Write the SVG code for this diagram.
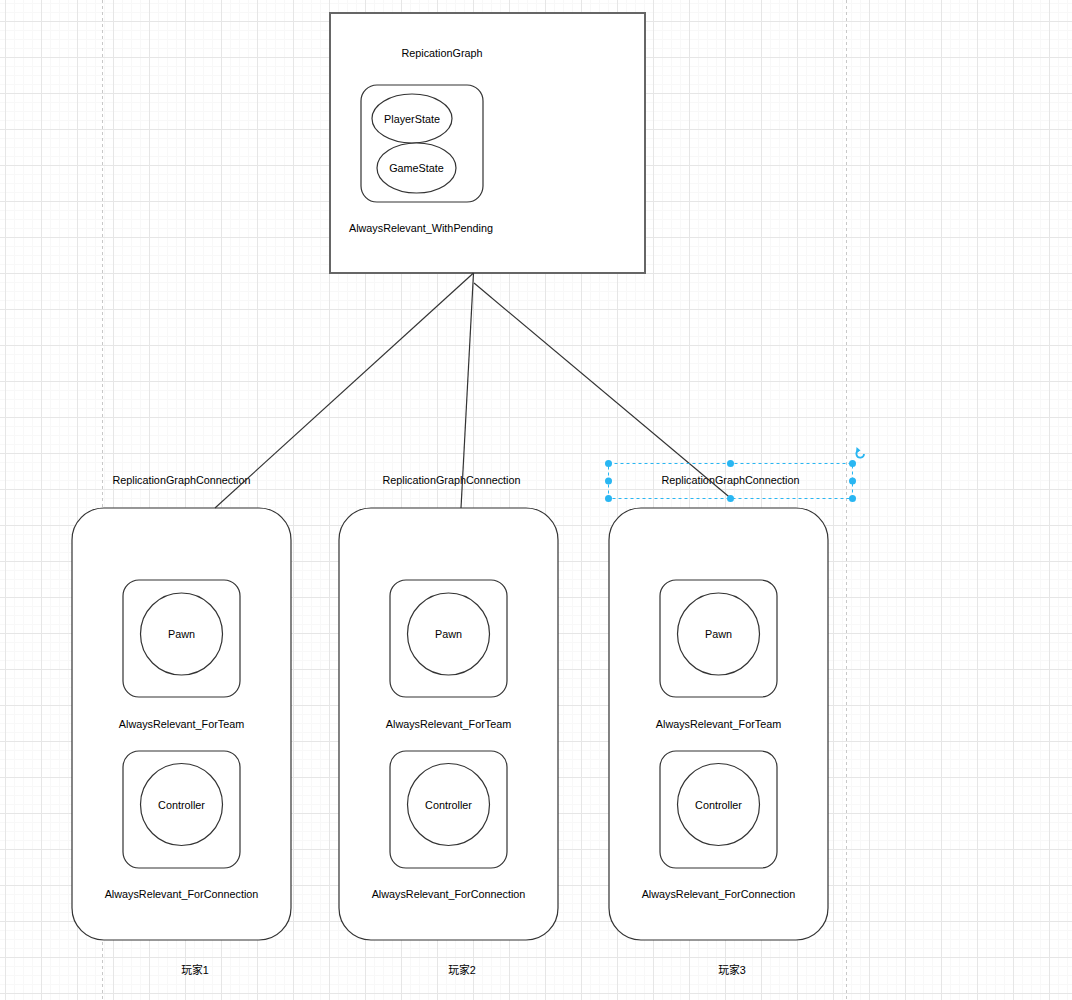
<svg xmlns="http://www.w3.org/2000/svg" width="1072" height="1000" viewBox="0 0 1072 1000">
<defs>
<pattern id="grid" patternUnits="userSpaceOnUse" x="5" y="21" width="36" height="36">
<path d="M9.5 0V36M18.5 0V36M27.5 0V36M0 9.5H36M0 18.5H36M0 27.5H36" stroke="#f8f8f8" stroke-width="1" fill="none"/>
<path d="M0.5 0V36M0 0.5H36" stroke="#e6e6e6" stroke-width="1" fill="none"/>
</pattern>
<style>
text{font-family:"Liberation Sans",Arial,sans-serif;font-size:10.8px;fill:#000;text-anchor:middle}
.cjk{font-family:"Liberation Sans","Noto Sans CJK SC",sans-serif}
.shape{fill:#fff;stroke:#333;stroke-width:1.2}
.edge{stroke:#333;stroke-width:1.2;fill:none}
.sel{fill:#29b6f2}
</style>
</defs>
<rect width="1072" height="1000" fill="#fff"/>
<rect width="1072" height="1000" fill="url(#grid)"/>
<path d="M102.5 0V1000M846.5 0V1000" stroke="#c8c8c8" stroke-width="1" stroke-dasharray="3 3"/>

<g id="replication-graph">
<rect x="330" y="13" width="315" height="260" fill="#fff" stroke="#666" stroke-width="2"/>
<text x="442" y="57">RepicationGraph</text>
<rect x="361" y="85" width="122" height="117" rx="16" class="shape"/>
<text x="421" y="232">AlwaysRelevant_WithPending</text>
</g>
<g id="playerstate">
<ellipse cx="412" cy="118.5" rx="40" ry="24.5" class="shape"/>
<text x="412" y="122.5">PlayerState</text>
</g>
<g id="gamestate">
<ellipse cx="416.5" cy="168" rx="39.5" ry="25" class="shape"/>
<text x="416.5" y="172">GameState</text>
</g>

<g id="connection1">
<rect x="72" y="508" width="219" height="432" rx="32" class="shape"/>
<text x="181.5" y="484">ReplicationGraphConnection</text>
<rect x="123" y="580" width="117" height="117" rx="16" class="shape"/>
<circle cx="181.5" cy="634" r="41" class="shape"/>
<text x="181.5" y="638">Pawn</text>
<text x="181.5" y="728">AlwaysRelevant_ForTeam</text>
<rect x="123" y="751" width="117" height="117" rx="16" class="shape"/>
<circle cx="181.5" cy="804.5" r="41" class="shape"/>
<text x="181.5" y="808.5">Controller</text>
<text x="181.5" y="898">AlwaysRelevant_ForConnection</text>
<text x="195" y="974" class="cjk">玩家1</text>
</g>

<g id="connection2">
<rect x="339" y="508" width="219" height="432" rx="32" class="shape"/>
<text x="451.5" y="484">ReplicationGraphConnection</text>
<rect x="390" y="580" width="117" height="117" rx="16" class="shape"/>
<circle cx="448.5" cy="634" r="41" class="shape"/>
<text x="448.5" y="638">Pawn</text>
<text x="448.5" y="728">AlwaysRelevant_ForTeam</text>
<rect x="390" y="751" width="117" height="117" rx="16" class="shape"/>
<circle cx="448.5" cy="804.5" r="41" class="shape"/>
<text x="448.5" y="808.5">Controller</text>
<text x="448.5" y="898">AlwaysRelevant_ForConnection</text>
<text x="462" y="974" class="cjk">玩家2</text>
</g>

<g id="connection3">
<rect x="609" y="508" width="219" height="432" rx="32" class="shape"/>
<text x="730.5" y="484">ReplicationGraphConnection</text>
<rect x="660" y="580" width="117" height="117" rx="16" class="shape"/>
<circle cx="718.5" cy="634" r="41" class="shape"/>
<text x="718.5" y="638">Pawn</text>
<text x="718.5" y="728">AlwaysRelevant_ForTeam</text>
<rect x="660" y="751" width="117" height="117" rx="16" class="shape"/>
<circle cx="718.5" cy="804.5" r="41" class="shape"/>
<text x="718.5" y="808.5">Controller</text>
<text x="718.5" y="898">AlwaysRelevant_ForConnection</text>
<text x="732" y="974" class="cjk">玩家3</text>
</g>

<g id="connectors">
<path class="edge" d="M473.5 273L215 508"/>
<path class="edge" d="M473.5 273L461 508"/>
<path class="edge" d="M474 283L730.5 498"/>
</g>

<g id="selection">
<rect x="608.5" y="463.5" width="244" height="35" fill="none" stroke="#29b6f2" stroke-width="1" stroke-dasharray="3 3"/>
<circle class="sel" cx="608.5" cy="463.5" r="3.5"/>
<circle class="sel" cx="730.5" cy="463.5" r="3.5"/>
<circle class="sel" cx="852.5" cy="463.5" r="3.5"/>
<circle class="sel" cx="608.5" cy="481" r="3.5"/>
<circle class="sel" cx="852.5" cy="481" r="3.5"/>
<circle class="sel" cx="608.5" cy="498.5" r="3.5"/>
<circle class="sel" cx="730.5" cy="498.5" r="3.5"/>
<circle class="sel" cx="852.5" cy="498.5" r="3.5"/>
<path d="M864 454A3.8 3.8 0 1 1 858.5 450.5" fill="none" stroke="#29b6f2" stroke-width="1.8"/>
<path d="M856.5 447L860.5 450.5L856 453Z" fill="#29b6f2"/>
</g>
</svg>
